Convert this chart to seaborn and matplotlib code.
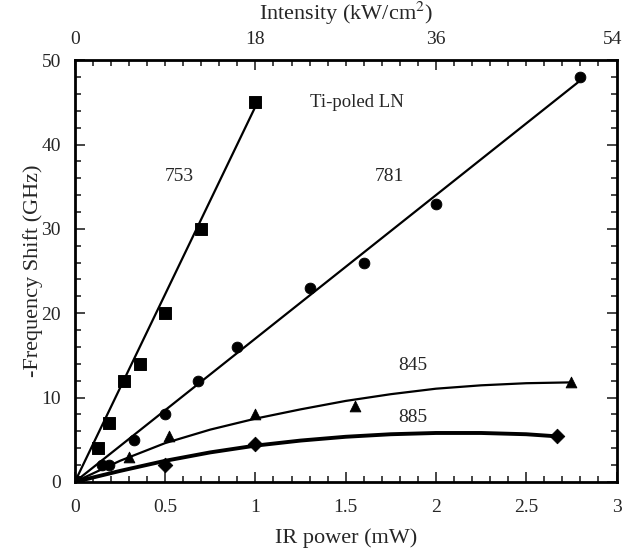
import numpy as np
import pandas as pd
import seaborn as sns
import matplotlib
matplotlib.use("Agg")
import matplotlib.pyplot as plt
import matplotlib.transforms as mtransforms
from matplotlib.ticker import MultipleLocator

# measured points (IR power in mW, -frequency shift in GHz)
p753 = [0, 0.13, 0.19, 0.27, 0.36, 0.50, 0.70, 1.00]
f753 = [0, 4, 7, 12, 14, 20, 30, 45]
p781 = [0, 0.15, 0.19, 0.33, 0.50, 0.68, 0.90, 1.30, 1.60, 2.00, 2.80]
f781 = [0, 2, 2, 5, 8, 12, 16, 23, 26, 33, 48]
p845 = [0, 0.30, 0.52, 1.00, 1.55, 2.75]
f845 = [0, 3, 5.5, 8, 9, 11.8]
p885 = [0, 0.50, 1.00, 2.67]
f885 = [0, 2, 4.5, 5.4]

# fitted curves
c753_x = [0, 1.00]
c753_y = [0, 44.5]
c781_x = [0, 2.80]
c781_y = [0, 47.6]
c845_x = [0, 0.25, 0.5, 0.75, 1.0, 1.25, 1.5, 1.75, 2.0, 2.25, 2.5, 2.75]
c845_y = [0, 2.5, 4.6, 6.2, 7.5, 8.6, 9.6, 10.4, 11.05, 11.45, 11.7, 11.8]
c885_x = [0, 0.25, 0.5, 0.75, 1.0, 1.25, 1.5, 1.75, 2.0, 2.25, 2.5, 2.67]
c885_y = [0, 1.3, 2.5, 3.5, 4.3, 4.9, 5.35, 5.65, 5.8, 5.8, 5.65, 5.4]

labels = ["753", "781", "845", "885"]

sns.set_style("ticks")
plt.rcParams['font.family'] = ['Liberation Serif', 'DejaVu Serif']
plt.rcParams['mathtext.fontset'] = 'stix'

fig = plt.figure(figsize=(6.24, 5.52), dpi=100)
ax = fig.add_axes([0.12, 0.127, 0.868, 0.764])

# fit lines
sns.lineplot(x=c753_x, y=c753_y, ax=ax, color='black', lw=1.6)
sns.lineplot(x=c781_x, y=c781_y, ax=ax, color='black', lw=1.6)
sns.lineplot(x=c845_x, y=c845_y, ax=ax, color='black', lw=1.6)
sns.lineplot(x=c885_x, y=c885_y, ax=ax, color='black', lw=2.8)

# data markers
sns.scatterplot(x=p885, y=f885, ax=ax, marker='D', s=55, color='black', edgecolor='black', zorder=5)
sns.scatterplot(x=p845, y=f845, ax=ax, marker='^', s=60, color='black', edgecolor='black', zorder=5)
sns.scatterplot(x=p781, y=f781, ax=ax, marker='o', s=60, color='black', edgecolor='black', zorder=5)
sns.scatterplot(x=p753, y=f753, ax=ax, marker='s', s=70, color='black', edgecolor='black', zorder=5)

ax.set_xlim(0, 3)
ax.set_ylim(0, 50)
ax.xaxis.set_major_locator(MultipleLocator(0.5))
ax.xaxis.set_minor_locator(MultipleLocator(0.1))
ax.yaxis.set_major_locator(MultipleLocator(10))
ax.yaxis.set_minor_locator(MultipleLocator(2))
ax.set_xticks([0, 0.5, 1, 1.5, 2, 2.5, 3])
ax.set_xticklabels(['0', '0.5', '1', '1.5', '2', '2.5', '3'])
ax.tick_params(which='both', direction='in', right=True, labelsize=14, width=1.2)
ax.tick_params(which='major', length=7)
ax.tick_params(which='minor', length=4)
ax.tick_params(axis='x', pad=12)
ax.tick_params(axis='y', pad=10)
for s in ax.spines.values():
    s.set_linewidth(2)
    s.set_color('black')

ax.set_xlabel('IR power (mW)', fontsize=16, labelpad=9)
ax.set_ylabel('-Frequency Shift (GHz)', fontsize=16, labelpad=-1)

# top axis: intensity
top = ax.secondary_xaxis('top', functions=(lambda x: x * 18, lambda x: x / 18))
top.set_xticks([0, 18, 36, 54])
top.xaxis.set_minor_locator(MultipleLocator(1.8))
top.tick_params(which='both', direction='in', labelsize=14, width=1.2, pad=9)
top.tick_params(which='major', length=7)
top.tick_params(which='minor', length=4)
top.set_xlabel('Intensity (kW/cm$^2$)', fontsize=16, labelpad=8)
fig.canvas.draw()
last = top.xaxis.get_ticklabels()[-1]
last.set_transform(last.get_transform() + mtransforms.ScaledTranslation(-4 / 100, 0, fig.dpi_scale_trans))

# annotations
ax.text(1.56, 45.0, 'Ti-poled LN', fontsize=13.5, ha='center', va='center')
ax.text(0.58, 36.2, labels[0], fontsize=14, ha='center', va='center')
ax.text(1.74, 36.2, labels[1], fontsize=14, ha='center', va='center')
ax.text(1.87, 13.8, labels[2], fontsize=14, ha='center', va='center')
ax.text(1.87, 7.6, labels[3], fontsize=14, ha='center', va='center')

plt.savefig('out.png', dpi=100)
